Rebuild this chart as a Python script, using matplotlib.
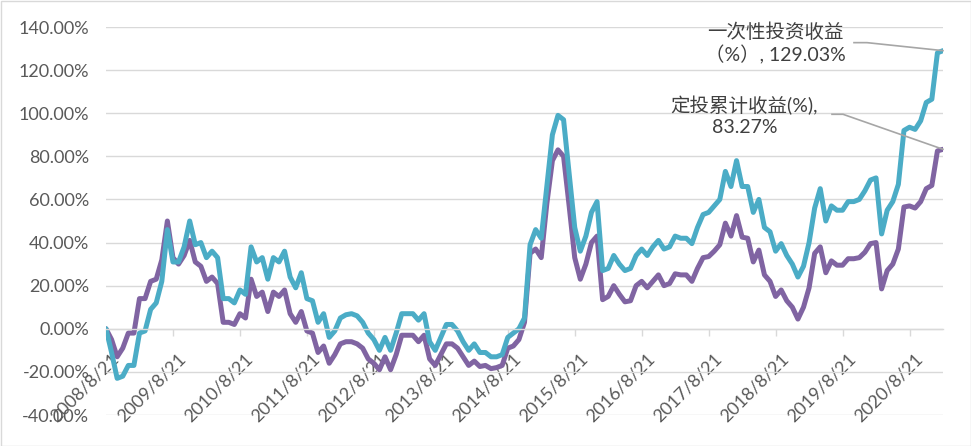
import matplotlib
matplotlib.use('Agg')
from matplotlib import pyplot as plt
from matplotlib import patches
from matplotlib.lines import Line2D
from matplotlib.transforms import IdentityTransform, ScaledTranslation
import numpy as np

plt.rcParams['font.family'] = ['Lato', 'Noto Sans CJK SC', 'DejaVu Sans']

# monthly returns (%), 2008/8/21 .. 2021/2/21
lump_sum = [0, -11, -23, -22, -17, -17, -2, -1, 9, 12, 22, 46, 31, 31, 38, 50, 39, 40, 33, 36,
            33, 14, 14, 12, 18, 16, 38, 31, 33, 23, 33, 31, 36, 24, 19, 26, 14, 13, 3, 7,
            -4, -1, 5, 6.5, 7, 6, 3, -2, -5, -10, -4, -10, -2, 7, 7, 7, 4, 7, -6, -10,
            -4, 2, 2, -1, -6, -10, -7, -11, -11, -13, -13, -12, -4, -2, 0, 5, 39, 46, 42, 66,
            90, 99, 97, 72, 47, 36, 43, 54, 59, 27, 28, 34, 30, 27, 28, 34, 37, 34, 38, 41,
            37, 38, 43, 42, 42, 39.5, 47, 53, 54, 57, 60, 73, 66, 78, 66, 66, 54, 60, 47, 45,
            36, 39.5, 34, 30, 24, 29, 40, 56, 65, 50, 57, 55, 55, 59, 59, 60, 64, 69, 70, 44,
            55, 59, 67, 92, 93.5, 92.5, 96.5, 105, 106.5, 128, 129.03]

dca = [0, -5, -13, -9, -2, -2, 14, 14, 22, 23, 32, 50, 33, 30, 34, 41, 31, 29, 22, 24,
       21, 3, 3, 2, 7, 5, 23, 15, 17, 8, 17, 15, 18, 7, 3, 8, -1, -2, -11, -8,
       -16, -12, -7, -6, -6, -7, -9, -14, -16, -19, -13, -19, -12, -3, -3, -3, -6, -3, -14, -17,
       -12, -7, -7, -9, -13, -17, -15, -17.5, -17, -18.5, -18, -17, -9, -8, -5, 3, 35, 37, 33, 58,
       78, 83, 80, 57, 33, 23, 30, 40, 43, 13.5, 15, 20, 16, 12.5, 13, 20, 22, 19, 22, 25,
       20, 21, 25.5, 25, 25, 22, 28, 33, 33.5, 36, 39, 49, 43, 52.5, 42.5, 42, 31, 36.5, 25, 22,
       15, 18, 13, 10, 4.5, 10, 19, 35, 38, 26, 31.5, 29.5, 29.5, 32.5, 32.5, 33, 35.5, 39.5, 40, 18.5,
       27, 30, 37, 56.5, 57, 56, 59, 65, 66.5, 82.5, 83.27]

tick_labels = ['2008/8/21', '2009/8/21', '2010/8/21', '2011/8/21', '2012/8/21', '2013/8/21',
               '2014/8/21', '2015/8/21', '2016/8/21', '2017/8/21', '2018/8/21', '2019/8/21',
               '2020/8/21']

lump_label = '一次性投资收益\n（%）, 129.03%'
dca_label = '定投累计收益(%),\n83.27%'

months = np.arange(len(lump_sum))

fig = plt.figure(figsize=(9.71, 4.46), dpi=100)
ax = fig.add_axes([106 / 971, 31 / 446, 837 / 971, 388 / 446])

ax.plot(months, dca, color='#8064A2', lw=3.6, solid_joinstyle='round', solid_capstyle='round')
ax.plot(months, lump_sum, color='#4BACC6', lw=3.6, solid_joinstyle='round', solid_capstyle='round')

ax.set_xlim(0, len(months) - 1)
ax.set_ylim(-40, 140)
ax.set_yticks(np.arange(-40, 141, 20))
ax.yaxis.set_major_formatter(lambda v, p: '%.2f%%' % v)
ax.grid(axis='y', color='#d9d9d9', lw=1)
ax.set_axisbelow(True)

for s in ['top', 'right', 'left']:
    ax.spines[s].set_visible(False)
ax.spines['bottom'].set_position(('data', 0))
ax.spines['bottom'].set_color('#d9d9d9')
ax.spines['bottom'].set_linewidth(1)

ax.tick_params(axis='y', length=0, pad=12, labelsize=13, labelcolor='#595959')
ax.tick_params(axis='x', length=5, color='#d9d9d9', width=1, pad=5, labelsize=13, labelcolor='#595959')
ax.set_xticks(months[::12], tick_labels, rotation=45, ha='right', rotation_mode='anchor')
shift = ScaledTranslation(5 / 100, -8 / 100, fig.dpi_scale_trans)
for lab in ax.get_xticklabels():
    lab.set_transform(lab.get_transform() + shift)

# data labels with leader lines for the last points
for series, label, txt_off, kink in [(lump_sum, lump_label, (-121, 5.5), [(-89, 8), (-76, 8)]),
                                     (dca, dca_label, (-143, 24), [(-111, 35), (-100, 35)])]:
    ax.annotate(label, xy=(months[-1], series[-1]), xytext=txt_off, textcoords='offset points',
                ha='center', va='center', fontsize=14, color='#404040', linespacing=1.25)
    px, py = ax.transData.transform((months[-1], series[-1]))
    xs = [px + kink[0][0], px + kink[1][0], px]
    ys = [py + kink[0][1], py + kink[1][1], py]
    fig.add_artist(Line2D(xs, ys, transform=IdentityTransform(), color='#a6a6a6', lw=1.2))

fig.add_artist(patches.Rectangle((0.5 / 971, 0.5 / 446), 1 - 1 / 971, 1 - 1 / 446,
                                 transform=fig.transFigure, fill=False, edgecolor='#d9d9d9', lw=1))

fig.savefig('out.png', dpi=100)
